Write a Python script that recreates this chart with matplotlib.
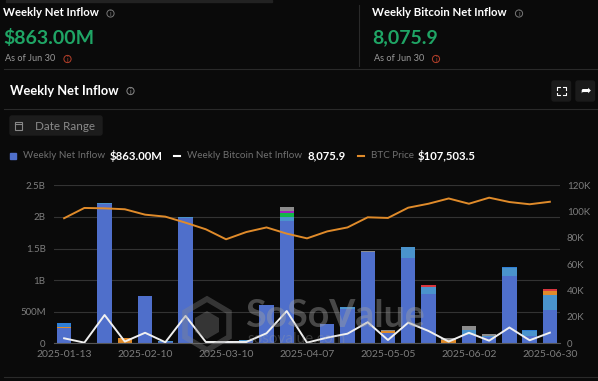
import matplotlib
matplotlib.use("Agg")
import matplotlib.pyplot as plt
from matplotlib.patches import Circle, FancyBboxPatch, Polygon, Rectangle

plt.rcParams["font.family"] = ["Lato", "DejaVu Sans"]

BG = "#0a0a0a"
GREEN = "#1fa565"

dates = ["2025-01-13", "2025-01-20", "2025-01-27", "2025-02-03", "2025-02-10", "2025-02-17", "2025-02-24",
         "2025-03-03", "2025-03-10", "2025-03-17", "2025-03-24", "2025-03-31", "2025-04-07", "2025-04-14",
         "2025-04-21", "2025-04-28", "2025-05-05", "2025-05-12", "2025-05-19", "2025-05-26", "2025-06-02",
         "2025-06-09", "2025-06-16", "2025-06-23", "2025-06-30"]

# stacked inflow per fund group, in billions
main = [.24, 0, 2.20, 0, .745, .02, 1.99, 0, .03, .04, .61, 1.93, 0, .30, .55, 1.44, .17, 1.35, .78, 0, .13, .10, 1.06, .12, .53]
light = [0, 0, .02, 0, 0, .01, .01, .01, .01, .01, 0, .07, 0, .01, .03, 0, 0, .18, .11, 0, .08, .02, .13, .07, .24]
orange = [.02, 0, 0, .08, 0, 0, 0, 0, 0, 0, 0, 0, 0, 0, 0, 0, .03, 0, 0, .05, 0, 0, 0, 0, .06]
green = [0, 0, 0, 0, 0, 0, 0, 0, 0, 0, 0, .06, 0, 0, 0, 0, 0, 0, 0, 0, 0, 0, 0, 0, 0]
purple = [0, 0, 0, 0, 0, 0, 0, 0, 0, 0, 0, .03, 0, 0, 0, 0, 0, 0, 0, 0, 0, 0, 0, 0, 0]
gray = [0, 0, 0, .01, 0, 0, 0, 0, 0, 0, 0, .07, 0, 0, 0, .02, .01, 0, 0, .03, .06, .03, 0, 0, 0]
red = [0, 0, 0, 0, 0, 0, 0, 0, 0, 0, 0, 0, 0, 0, 0, 0, 0, 0, .03, 0, 0, 0, 0, 0, .03]
top = [.065, 0, 0, 0, 0, 0, 0, 0, 0, 0, 0, 0, 0, 0, 0, 0, 0, 0, 0, 0, 0, 0, .02, .02, 0]

# right axis, in thousands
btc_inflow = [3.8, .5, 21.5, 1.3, 8, .8, 20.8, 1, 1, 1, 7.6, 24.5, .5, 4.3, 7.3, 16, 2.5, 15.7, 9.4, 1.3, 8, 2, 12, 2.3, 8.0759]
btc_price = [95, 102.8, 102.5, 101.8, 97.7, 96.2, 91.6, 86.6, 79, 84.5, 88, 83.3, 79.7, 85, 88, 95.7, 95.2, 103, 106, 110, 106, 110.6, 107.3, 105.6, 107.5]

left_ticks = [0, .5, 1, 1.5, 2, 2.5]
left_labels = ["0", "500M", "1B", "1.5B", "2B", "2.5B"]
right_ticks = [0, 20, 40, 60, 80, 100, 120]
right_labels = ["0", "20K", "40K", "60K", "80K", "100K", "120K"]

fig = plt.figure(figsize=(5.98, 3.81), dpi=100, facecolor=BG)

# page furniture in pixel coordinates
page = fig.add_axes([0, 0, 1, 1])
page.set_xlim(0, 598)
page.set_ylim(381, 0)
page.axis("off")


def label(x, y, s, size=8, color="white", weight="normal", ha="left"):
    page.text(x, y, s, fontsize=size, color=color, fontweight=weight, ha=ha, va="center")


def info(x, y, color="#777777"):
    page.add_patch(Circle((x, y), 3.6, fill=False, ec=color, lw=.7))
    page.text(x, y, "i", fontsize=5, color=color, ha="center", va="center")


page.add_patch(Rectangle((6, 0), 266, 1.5, color="#222222"))
page.plot([359, 359], [5, 66], color="#2a2a2a", lw=.8)
for yy in [69, 109, 377]:
    page.plot([4, 598], [yy, yy], color="#2a2a2a", lw=.8)

label(3, 13, "Weekly Net Inflow", 8.2, weight="bold")
info(110.5, 13.5)
label(3, 38, "$863.00M", 14, GREEN, "bold")
label(5, 58.5, "As of Jun 30", 6.6, "#999999")
info(67.5, 59, "#b5402a")
label(372, 13, "Weekly Bitcoin Net Inflow", 8.2, weight="bold")
info(519, 13.5)
label(372, 38, "8,075.9", 14, GREEN, "bold")
label(374, 58.5, "As of Jun 30", 6.6, "#999999")
info(436, 59, "#b5402a")

label(10, 91, "Weekly Net Inflow", 9.3, weight="bold")
info(130.5, 91, "#888888")
for bx in [552, 576]:
    page.add_patch(FancyBboxPatch((bx, 81), 18.5, 20, boxstyle="round,pad=0,rounding_size=2", color="#1b1b1b"))
# fullscreen corners (no installed font has this sign)
for cx, sx in [(557, 1), (566, -1)]:
    for cy, sy in [(87, 1), (95, -1)]:
        page.plot([cx + 3 * sx, cx, cx], [cy, cy, cy + 2.5 * sy], color="white", lw=.8)
page.text(585.5, 90.5, "➦", fontsize=9, color="white", ha="center", va="center", family="DejaVu Sans")

page.add_patch(FancyBboxPatch((10, 116), 92, 19, boxstyle="round,pad=0,rounding_size=2", color="#1c1c1c"))
page.add_patch(Rectangle((15, 121.5), 7, 8.5, fill=False, ec="#888888", lw=.8))
page.plot([15, 22], [124, 124], color="#888888", lw=.8)
label(35, 126, "Date Range", 8.4, "#8a8a8a")

page.add_patch(Rectangle((10, 153), 6, 6, color="#4f6fcb"))
label(23, 156, "Weekly Net Inflow", 7.1, "#6f6f6f")
label(110, 156, "$863.00M", 8.2, weight="bold")
page.plot([174, 180], [156, 156], color="white", lw=1.5)
label(187, 156, "Weekly Bitcoin Net Inflow", 7.1, "#6f6f6f")
label(308, 156, "8,075.9", 8.2, weight="bold")
page.plot([358, 364], [156, 156], color="#e08b2a", lw=1.5)
label(371, 156, "BTC Price", 7.1, "#6f6f6f")
label(418, 156, "$107,503.5", 8.2, weight="bold")

# chart
ax = fig.add_axes([54 / 598, 1 - 343.3 / 381, (560 - 54) / 598, 158 / 381])
ax.patch.set_alpha(0)
x = list(range(len(dates)))
base = [0] * len(dates)
for vals, col in [(main, "#4f6fcb"), (light, "#4a93cc"), (orange, "#e08b2a"), (green, "#12b54a"),
                  (purple, "#a020c0"), (gray, "#8c8c8c"), (red, "#d9363e"), (top, "#2f7fd6")]:
    ax.bar(x, vals, width=.71, bottom=base, color=col, zorder=2)
    base = [b + v for b, v in zip(base, vals)]

ax.set_xlim(-.5, 24.5)
ax.set_ylim(0, 2.5)
ax.set_yticks(left_ticks, left_labels)
ax.set_xticks(x[::4], dates[::4])
ax.grid(axis="y", color="#333333", lw=.8, zorder=0)
ax.tick_params(axis="x", length=0, labelsize=7.5, labelcolor="#7d7d7d", pad=5)
ax.tick_params(axis="y", length=0, labelsize=7, labelcolor="#7d7d7d", pad=6)
for s in ax.spines.values():
    s.set_visible(False)
ax.spines["bottom"].set_visible(True)
ax.spines["bottom"].set_color("#555555")

ax2 = ax.twinx()
ax2.set_ylim(0, 120)
ax2.set_yticks(right_ticks, right_labels)
ax2.plot(x, btc_price, color="#e08b2a", lw=1.4, zorder=3)
ax2.plot(x, btc_inflow, color="#f0f0f0", lw=1.4, zorder=4)
ax2.tick_params(length=0, labelsize=7, labelcolor="#7d7d7d", pad=5)
for s in ax2.spines.values():
    s.set_visible(False)

# watermark
page.set_zorder(5)
page.add_patch(Polygon([(207, 299), (229, 312), (229, 337), (207, 350), (185, 337), (185, 312)],
                       closed=True, fc="none", ec="#888888", lw=4, alpha=.35))
page.add_patch(Polygon([(207, 311), (219, 318), (219, 332), (207, 339), (195, 332), (195, 318)],
                       closed=True, fc="#888888", ec="none", alpha=.35))
page.text(245, 316, "SoSoValue", fontsize=27, fontweight="bold", color="#a0a0a0", alpha=.42, va="center")
page.text(247, 339, "sosovalue.com", fontsize=11, color="#a0a0a0", alpha=.3, va="center")

fig.savefig("out.png", dpi=100, facecolor=BG)
